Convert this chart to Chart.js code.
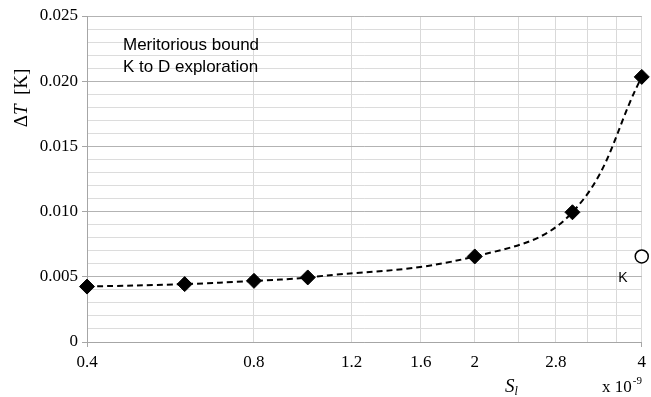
<!DOCTYPE html>
<html>
<head>
<meta charset="utf-8">
<script src="https://cdn.jsdelivr.net/npm/chart.js@4/dist/chart.umd.min.js"></script>
<style>
  body { margin: 0; background: #fff; }
  #wrap { width: 651px; height: 397px; }
</style>
</head>
<body>
<div id="wrap"><canvas id="dtChart" width="651" height="397"></canvas></div>
<script>
// S_l in units of 1e-9, dT in K
const sValues = [0.4, 0.6, 0.8, 1.0, 2.0, 3.0, 4.0];
const dTValues = [0.00425, 0.00444, 0.00469, 0.00495, 0.00656, 0.00995, 0.02033];
const kS = [4.0];
const kDT = [0.00656];
const xTickValues = [0.4, 0.8, 1.2, 1.6, 2.0, 2.4, 2.8, 3.2, 3.6, 4.0];
const xTickLabels = [0.4, 0.8, 1.2, 1.6, 2, 2.8, 4];
const yMajorStep = 0.005;

const serif = '"Liberation Serif", "Times New Roman", serif';
const sans = '"Liberation Sans", Arial, sans-serif';

const isMajorY = v => Math.round(v * 1000) % 5 === 0;

// texts drawn on top: note box, K tag, axis titles
const textPlugin = {
  id: 'texts',
  afterDraw(chart) {
    const c = chart.ctx;
    c.save();
    c.fillStyle = '#000';
    c.textBaseline = 'alphabetic';

    c.font = '17px ' + sans;
    c.textAlign = 'left';
    c.fillText('Meritorious bound', 123, 50);
    c.fillText('K to D exploration', 123, 72);

    c.font = '14px ' + sans;
    c.textAlign = 'center';
    c.fillText('K', 623, 282);

    // y title, rotated
    c.save();
    c.translate(27, 98);
    c.rotate(-Math.PI / 2);
    const parts = [['Δ', '19px ' + serif], ['T', 'italic 19px ' + serif], ['  [K]', '19px ' + serif]];
    let total = 0;
    parts.forEach(p => { c.font = p[1]; total += c.measureText(p[0]).width; });
    let px = -total / 2;
    c.textAlign = 'left';
    parts.forEach(p => { c.font = p[1]; c.fillText(p[0], px, 0); px += c.measureText(p[0]).width; });
    c.restore();

    // x title
    c.textAlign = 'left';
    c.font = 'italic 19px ' + serif;
    c.fillText('S', 505, 392);
    const sw = c.measureText('S').width;
    c.font = 'italic 12px ' + serif;
    c.fillText('l', 505 + sw, 395);

    c.font = '17px ' + serif;
    c.fillText('x 10', 602, 392);
    const xw = c.measureText('x 10').width;
    c.font = '11px ' + serif;
    c.fillText('-9', 602 + xw + 1, 384);
    c.restore();
  }
};

new Chart(document.getElementById('dtChart'), {
  type: 'line',
  data: {
    datasets: [{
      data: sValues.map((s, i) => ({ x: s, y: dTValues[i] })),
      clip: false,
      borderColor: '#000',
      borderWidth: 2,
      borderDash: [6, 4],
      tension: 0.4,
      pointStyle: 'rectRot',
      pointRadius: 7.5,
      pointBackgroundColor: '#000',
      pointBorderColor: '#000',
      pointBorderWidth: 1,
      fill: false
    }, {
      data: kS.map((s, i) => ({ x: s, y: kDT[i] })),
      clip: false,
      showLine: false,
      pointStyle: 'circle',
      pointRadius: 6.5,
      pointBackgroundColor: '#fff',
      pointBorderColor: '#000',
      pointBorderWidth: 1.5
    }]
  },
  options: {
    responsive: false,
    animation: false,
    layout: { padding: { top: 16, right: 8, left: 0, bottom: 0 } },
    plugins: { legend: { display: false }, tooltip: { enabled: false } },
    scales: {
      x: {
        type: 'logarithmic',
        min: 0.4,
        max: 4,
        afterBuildTicks: scale => { scale.ticks = xTickValues.map(v => ({ value: v })); },
        afterFit: scale => { scale.height = 55; },
        border: { color: '#a6a6a6' },
        grid: {
          color: '#d9d9d9',
          tickLength: 5,
          tickColor: ctx => (ctx.index === 0 || ctx.index === xTickValues.length - 1) ? '#a6a6a6' : 'rgba(0,0,0,0)'
        },
        ticks: {
          autoSkip: false,
          maxRotation: 0,
          padding: 5,
          color: '#000',
          font: { family: serif, size: 17 },
          callback: v => xTickLabels.some(t => Math.abs(t - v) < 1e-6) ? String(+v.toFixed(1)) : ''
        }
      },
      y: {
        min: 0,
        max: 0.025,
        afterFit: scale => { scale.width = 87; },
        border: { color: '#a6a6a6' },
        grid: {
          color: ctx => isMajorY(ctx.tick.value) ? '#b3b3b3' : '#dcdcdc',
          tickLength: 5,
          tickColor: ctx => isMajorY(ctx.tick.value) ? '#a6a6a6' : 'rgba(0,0,0,0)'
        },
        ticks: {
          stepSize: 0.001,
          autoSkip: false,
          padding: 4,
          color: '#000',
          font: { family: serif, size: 17 },
          callback: v => {
            if (!isMajorY(v)) return '';
            return Math.abs(v) < 1e-9 ? '0' : (Math.round(v / yMajorStep) * yMajorStep).toFixed(3);
          }
        }
      }
    }
  },
  plugins: [textPlugin]
});
</script>
</body>
</html>
